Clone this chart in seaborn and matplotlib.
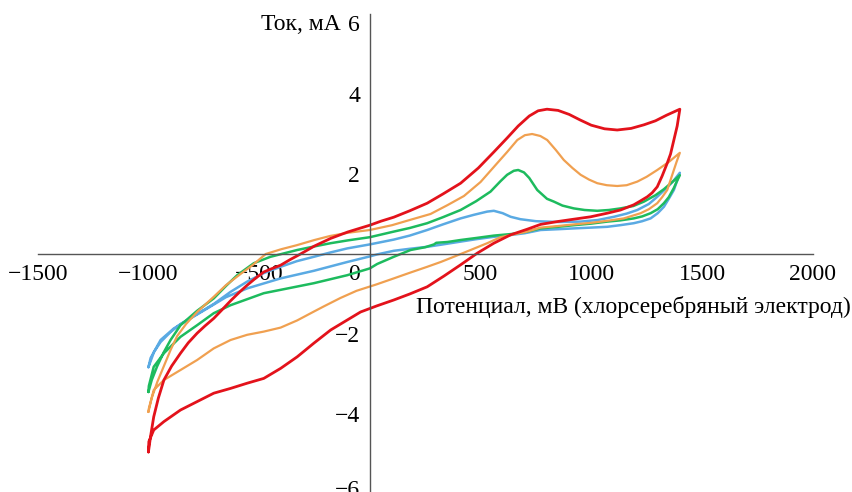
import matplotlib
matplotlib.use("Agg")
import matplotlib.pyplot as plt
import matplotlib.transforms as mtransforms
import seaborn as sns
import numpy as np
import pandas as pd

# ---------------- data (potential, mV ; current, mA) ----------------
red_fwd_x = [-1000, -990, -976, -955, -930, -895, -855, -820, -780, -745, -705, -665, -629, -590, -554,
             -515, -479, -440, -403, -360, -313, -250, -177, -100, 0, 50, 108, 180, 259, 330, 410, 490,
             560, 620, 670, 720, 760, 800, 850, 900, 950, 1000, 1060, 1117, 1180, 1238, 1290, 1340, 1400]
red_fwd_y = [-4.95, -4.55, -4.07, -3.6, -3.15, -2.8, -2.48, -2.22, -1.98, -1.8, -1.61, -1.38, -1.17, -0.96, -0.78,
             -0.6, -0.45, -0.36, -0.28, -0.14, 0.0, 0.2, 0.39, 0.55, 0.72, 0.82, 0.92, 1.08, 1.27, 1.5, 1.77, 2.15,
             2.55, 2.9, 3.2, 3.45, 3.58, 3.62, 3.59, 3.49, 3.35, 3.22, 3.13, 3.1, 3.14, 3.23, 3.33, 3.47, 3.62]
red_rev_x = [1400, 1388, 1373, 1358, 1343, 1320, 1298, 1275, 1253, 1220, 1192, 1132, 1072, 997, 921, 846,
             771, 711, 636, 560, 485, 410, 335, 259, 180, 108, 30, -42, -102, -177, -253, -328, -403, -479,
             -554, -629, -705, -780, -855, -930, -976, -998, -1000]
red_rev_y = [3.62, 3.2, 2.85, 2.5, 2.27, 1.95, 1.68, 1.53, 1.43, 1.32, 1.23, 1.1, 1.02, 0.93, 0.87, 0.81,
             0.74, 0.62, 0.48, 0.27, 0.02, -0.27, -0.55, -0.82, -1.0, -1.15, -1.3, -1.45, -1.65, -1.9, -2.23,
             -2.57, -2.86, -3.11, -3.23, -3.36, -3.48, -3.69, -3.9, -4.19, -4.4, -4.69, -4.95]

orange_fwd_x = [-1000, -985, -960, -930, -900, -870, -830, -780, -705, -650, -584, -530, -470, -400, -330,
                -250, -180, -100, 0, 100, 180, 274, 350, 425, 500, 575, 620, 666, 700, 733, 770, 801, 840,
                876, 915, 952, 990, 1027, 1070, 1117, 1160, 1208, 1250, 1298, 1350, 1400]
orange_fwd_y = [-3.95, -3.6, -3.2, -2.8, -2.4, -2.05, -1.75, -1.45, -1.07, -0.78, -0.5, -0.28, 0.0, 0.12, 0.22,
                0.35, 0.45, 0.53, 0.6, 0.72, 0.85, 1.0, 1.22, 1.45, 1.8, 2.27, 2.55, 2.85, 2.97, 3.0, 2.95, 2.85,
                2.6, 2.35, 2.15, 1.98, 1.86, 1.77, 1.72, 1.7, 1.72, 1.81, 1.93, 2.1, 2.3, 2.53]
orange_rev_x = [1400, 1385, 1373, 1358, 1343, 1320, 1298, 1260, 1223, 1147, 1072, 1000, 921, 850, 771, 711,
                640, 590, 530, 455, 379, 320, 259, 180, 108, 30, -60, -133, -208, -253, -328, -403, -479,
                -554, -629, -705, -780, -855, -930, -976, -998, -1000]
orange_rev_y = [2.53, 2.3, 2.1, 1.85, 1.6, 1.42, 1.27, 1.12, 1.02, 0.89, 0.83, 0.78, 0.74, 0.7, 0.66, 0.56,
                0.48, 0.42, 0.27, 0.1, -0.07, -0.2, -0.32, -0.47, -0.61, -0.76, -0.92, -1.1, -1.31, -1.44, -1.66,
                -1.84, -1.94, -2.02, -2.15, -2.36, -2.65, -2.9, -3.15, -3.4, -3.86, -3.95]

green_fwd_x = [-1000, -985, -960, -930, -900, -855, -780, -705, -650, -599, -524, -449, -328, -250, -177,
               -100, 0, 108, 180, 259, 330, 410, 480, 545, 590, 620, 650, 670, 696, 720, 756, 800, 831, 870,
               921, 970, 1027, 1080, 1132, 1190, 1238, 1290, 1328, 1370, 1400]
green_fwd_y = [-3.45, -3.15, -2.8, -2.45, -2.15, -1.78, -1.42, -1.11, -0.8, -0.53, -0.23, -0.07, 0.1, 0.19, 0.27,
               0.34, 0.42, 0.56, 0.65, 0.77, 0.92, 1.1, 1.32, 1.56, 1.82, 1.98, 2.08, 2.1, 2.04, 1.9, 1.6, 1.38,
               1.31, 1.21, 1.14, 1.1, 1.08, 1.1, 1.14, 1.2, 1.31, 1.47, 1.62, 1.82, 1.97]
green_rev_x = [1400, 1385, 1373, 1350, 1328, 1300, 1268, 1230, 1192, 1130, 1072, 1000, 921, 850, 771, 711,
               640, 560, 480, 410, 350, 300, 290, 250, 184, 108, 33, 0, -102, -253, -479, -629, -705, -780,
               -855, -930, -976, -998, -1000]
green_rev_y = [1.97, 1.8, 1.65, 1.42, 1.27, 1.12, 1.02, 0.94, 0.89, 0.84, 0.81, 0.76, 0.72, 0.68, 0.64, 0.56,
               0.5, 0.46, 0.4, 0.35, 0.3, 0.28, 0.24, 0.17, 0.1, -0.07, -0.25, -0.36, -0.53, -0.73, -0.98,
               -1.28, -1.48, -1.78, -2.07, -2.48, -2.82, -3.3, -3.45]

blue_fwd_x = [-1000, -975, -945, -900, -855, -780, -705, -630, -554, -480, -403, -330, -253, -177, -102, 0,
              108, 180, 259, 330, 410, 470, 530, 560, 600, 636, 680, 750, 850, 952, 1030, 1102, 1160, 1208,
              1260, 1298, 1340, 1370, 1400]
blue_fwd_y = [-2.83, -2.45, -2.2, -1.95, -1.75, -1.5, -1.25, -0.95, -0.69, -0.48, -0.32, -0.18, -0.07, 0.04,
              0.14, 0.24, 0.36, 0.46, 0.6, 0.74, 0.89, 0.98, 1.06, 1.08, 1.02, 0.93, 0.87, 0.82, 0.8, 0.81, 0.85,
              0.93, 1.01, 1.1, 1.25, 1.43, 1.65, 1.82, 2.03]
blue_rev_x = [1400, 1373, 1350, 1328, 1300, 1268, 1230, 1192, 1130, 1072, 1000, 921, 850, 771, 700, 630,
              560, 480, 410, 330, 259, 180, 108, 33, 0, -102, -253, -403, -554, -650, -734, -810, -885, -945,
              -990, -1000]
blue_rev_y = [2.03, 1.6, 1.38, 1.18, 1.02, 0.89, 0.82, 0.77, 0.72, 0.68, 0.66, 0.64, 0.62, 0.6, 0.52, 0.47,
              0.43, 0.37, 0.31, 0.24, 0.18, 0.13, 0.08, -0.01, -0.06, -0.2, -0.42, -0.61, -0.86, -1.08, -1.36,
              -1.61, -1.86, -2.15, -2.6, -2.83]

series_colors = {"blue": "#5aaae3", "green": "#1dbb5e", "orange": "#f0a050", "red": "#e3121b"}
series_widths = {"blue": 1.8, "green": 1.8, "orange": 1.6, "red": 2.0}
curves = {
    "blue": (blue_fwd_x + blue_rev_x, blue_fwd_y + blue_rev_y),
    "green": (green_fwd_x + green_rev_x, green_fwd_y + green_rev_y),
    "orange": (orange_fwd_x + orange_rev_x, orange_fwd_y + orange_rev_y),
    "red": (red_fwd_x + red_rev_x, red_fwd_y + red_rev_y),
}

x_ticks = [-1500, -1000, -500, 0, 500, 1000, 1500, 2000]
y_ticks = [-6, -4, -2, 2, 4, 6]

# ---------------- figure ----------------
sns.set_theme(style="white")
plt.rcParams["font.family"] = ["Liberation Serif", "DejaVu Serif"]
plt.rcParams["axes.unicode_minus"] = True

W, H = 853, 492
fig = plt.figure(figsize=(W / 100, H / 100), dpi=100)
left_px, right_px, top_px, bot_px = 37.7, 812.7, 14.0, 494.0
ax = fig.add_axes([left_px / W, (H - bot_px) / H, (right_px - left_px) / W, (bot_px - top_px) / H])
ax.set_facecolor("white")
fig.patch.set_facecolor("white")

for name, (xs, ys) in curves.items():
    sns.lineplot(x=xs, y=ys, sort=False, estimator=None, color=series_colors[name],
                 linewidth=series_widths[name], ax=ax)

ax.set_xlim(-1500, 2000)
ax.set_ylim(-6, 6)

for s in ["top", "right"]:
    ax.spines[s].set_visible(False)
ax.spines["left"].set_position(("data", 0))
ax.spines["bottom"].set_position(("data", 0))
for s in ["left", "bottom"]:
    ax.spines[s].set_color("#555555")
    ax.spines[s].set_linewidth(1.0)

fs = 17
ax.set_xticks(x_ticks)
ax.set_xticklabels([f"{v}".replace("-", "\u2212") for v in x_ticks])
ax.set_yticks(y_ticks)
ax.set_yticklabels([f"{v}".replace("-", "\u2212") for v in y_ticks])
ax.tick_params(axis="x", direction="in", length=4, width=1, color="#555555", pad=7,
               labelsize=fs, labelcolor="black")
ax.tick_params(axis="y", direction="in", length=5, width=1, color="#555555", pad=7,
               labelsize=fs, labelcolor="black")
ax.grid(False)

def shift(label, dx_px, dy_px):
    label.set_transform(label.get_transform() +
                        mtransforms.ScaledTranslation(dx_px / 100, dy_px / 100, fig.dpi_scale_trans))

# shift the "0" x tick label to the left of the y axis
for lab in ax.get_xticklabels():
    if lab.get_text() == "0":
        shift(lab, -16, 0)
# end labels of the y axis sit inside the axis span
for lab in ax.get_yticklabels():
    if lab.get_text() == "6":
        shift(lab, 0, -9)
    elif lab.get_text() == "\u22126":
        shift(lab, 0, 6)

ax.annotate("Ток, мА", xy=(0, 6), xycoords="data", xytext=(-29, -10), textcoords="offset pixels",
            ha="right", va="center", fontsize=fs, color="black", annotation_clip=False)
fig.text(851 / W, 1 - 306.7 / H, "Потенциал, мВ (хлорсеребряный электрод)", ha="right", va="center",
         fontsize=fs, color="black")

fig.savefig("out.png", dpi=100, facecolor="white")
